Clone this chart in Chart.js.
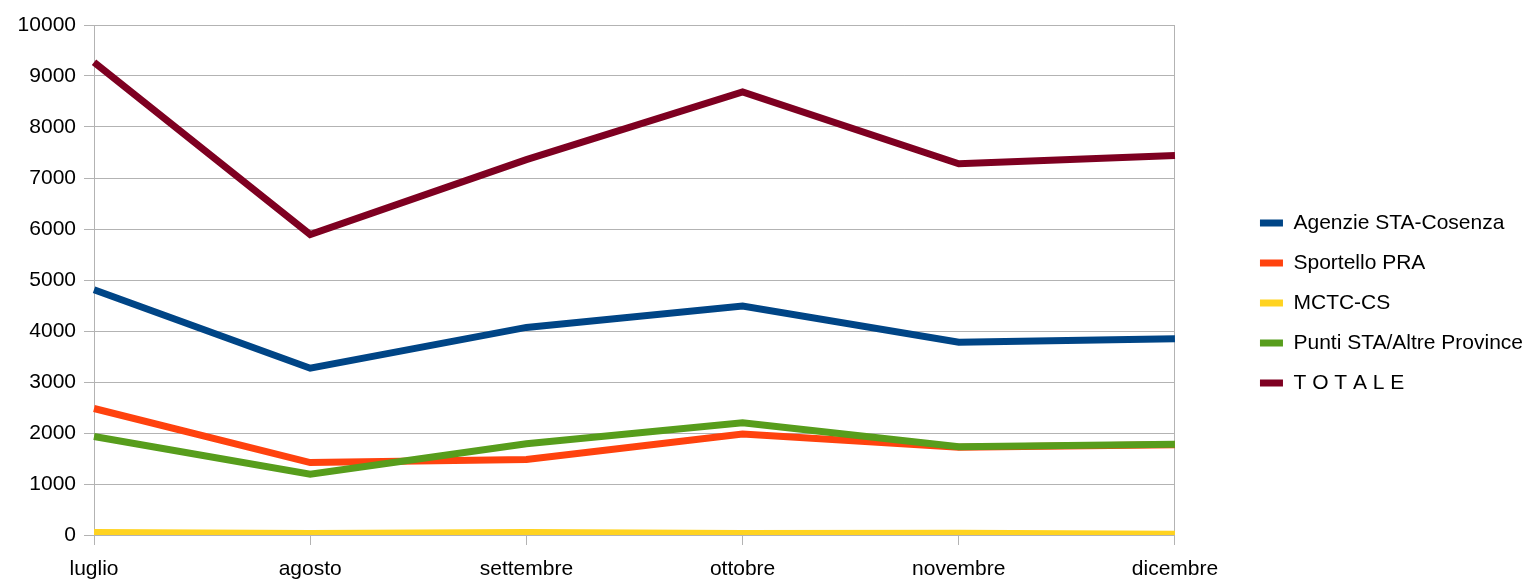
<!DOCTYPE html>
<html>
<head>
<meta charset="utf-8">
<script src="https://cdn.jsdelivr.net/npm/chart.js@4/dist/chart.umd.min.js"></script>
<style>
  html, body { margin: 0; padding: 0; background: #fff; }
  #wrap { width: 1528px; height: 581px; }
</style>
</head>
<body>
<div id="wrap"><canvas id="lineChart" width="1528" height="581"></canvas></div>
<script>
const months = ['luglio', 'agosto', 'settembre', 'ottobre', 'novembre', 'dicembre'];

const agenzie = [4810, 3270, 4070, 4490, 3780, 3850];
const sportello = [2480, 1420, 1480, 1980, 1720, 1770];
const mctc = [50, 30, 50, 30, 35, 15];
const puntiSta = [1930, 1190, 1790, 2200, 1730, 1780];
const totale = [9270, 5890, 7360, 8690, 7280, 7440];

const gridGray = '#b3b3b3';
const labelFont = { family: 'Liberation Sans', size: 21 };

document.addEventListener('DOMContentLoaded', function () {
    const ctx = document.getElementById('lineChart').getContext('2d');

    function serie(label, data, color, order) {
        return {
            label: label,
            data: data,
            borderColor: color,
            backgroundColor: color,
            borderWidth: 7,
            pointRadius: 0,
            tension: 0,
            order: order
        };
    }

    new Chart(ctx, {
        type: 'line',
        data: {
            labels: months,
            datasets: [
                serie('Agenzie STA-Cosenza', agenzie, '#004586', 5),
                serie('Sportello PRA', sportello, '#ff420e', 4),
                serie('MCTC-CS', mctc, '#ffd320', 3),
                serie('Punti STA/Altre Province', puntiSta, '#579d1c', 2),
                serie('T O T A L E', totale, '#7e0021', 1)
            ]
        },
        options: {
            responsive: false,
            animation: false,
            layout: {
                padding: { top: 25, right: -5, bottom: 0, left: 0 }
            },
            plugins: {
                tooltip: { enabled: false },
                legend: {
                    position: 'right',
                    labels: {
                        boxWidth: 23,
                        boxHeight: 7,
                        padding: 19,
                        color: '#000',
                        font: labelFont,
                        sort: (a, b) => a.datasetIndex - b.datasetIndex,
                        generateLabels: (chart) => Chart.defaults.plugins.legend.labels
                            .generateLabels(chart).map(l => Object.assign(l, { lineWidth: 0 }))
                    }
                }
            },
            scales: {
                x: {
                    offset: false,
                    afterFit: (s) => { s.height = 46; },
                    grid: {
                        color: (c) => c.index === months.length - 1 ? gridGray : 'rgba(0,0,0,0)',
                        tickColor: gridGray,
                        tickLength: 10
                    },
                    border: { color: gridGray },
                    ticks: {
                        color: '#000',
                        padding: 12,
                        maxRotation: 0,
                        font: labelFont
                    }
                },
                y: {
                    min: 0,
                    max: 10000,
                    afterFit: (s) => { s.width = 94; },
                    grid: { color: gridGray, tickLength: 10 },
                    border: { color: gridGray },
                    ticks: {
                        stepSize: 1000,
                        color: '#000',
                        padding: 8,
                        font: labelFont,
                        callback: (v) => String(v)
                    }
                },
                // empty space between plot area and legend
                gap: {
                    display: false,
                    position: 'right',
                    afterFit: (s) => { s.width = 66; }
                }
            }
        }
    });
});
</script>
</body>
</html>
